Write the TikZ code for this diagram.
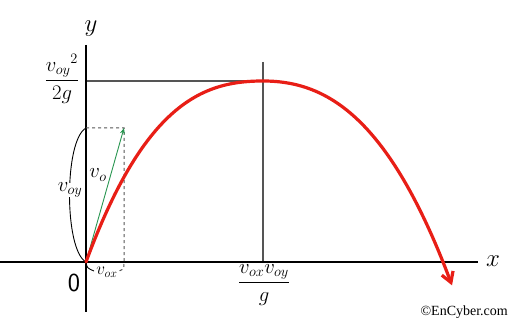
\documentclass[tikz,border=0pt]{standalone}
\usepackage{amsmath}
\usepackage{fontspec}
\newfontfamily\cyfont{Liberation Serif}
\usetikzlibrary{arrows.meta}
\definecolor{trajred}{RGB}{232,30,22}
\definecolor{vgreen}{RGB}{40,150,80}
\definecolor{guide}{RGB}{85,85,85}
\tikzset{
  axisline/.style={line width=1.8pt,black},
  guideline/.style={line width=1.2pt,guide},
  lbl/.style={inner sep=1pt,font=\fontsize{21}{24}\selectfont},
  biglbl/.style={inner sep=1pt,font=\fontsize{30}{32}\selectfont},
}
\begin{document}
\begin{tikzpicture}[x=1pt,y=-1pt]
\useasboundingbox[fill=white] (0,0) rectangle (508,323);
% key coordinates
\coordinate (O) at (86,262);
\coordinate (ytop) at (86,45);
\coordinate (ybot) at (86,312);
\coordinate (xleft) at (0,262);
\coordinate (xright) at (478,262);
\coordinate (peak) at (263,81);
\coordinate (peaktop) at (263,62);
\coordinate (peakfoot) at (263,262);
\coordinate (hleft) at (86,81);
\coordinate (vtip) at (124,128);
\coordinate (vtop) at (86,128);
\coordinate (vcorner) at (124,262);
% guides
\draw[guideline] (hleft) -- (peak);
\draw[guideline] (peaktop) -- (peakfoot);
% axes
\draw[axisline] (ytop) -- (ybot);
\draw[axisline] (xleft) -- (xright);
% dashed velocity box
\draw[dashed,line width=1pt,guide] (vtop) -- (vtip) -- (vcorner) .. controls (124,269) .. (119,271);
% solid bracket piece
\draw[line width=0.9pt] (O) .. controls (87,268) .. (94,271);
% v_oy arc
\draw[line width=0.9pt] (vtop) .. controls (64,140) and (64,250) .. (O);
% velocity vector
\draw[vgreen,line width=0.9pt,-{Stealth[length=6pt,width=5pt]}] (O) -- (vtip);
% trajectory
\draw[trajred,line width=3.2pt,line cap=round,-{Straight Barb[length=10pt,width=12pt]}]
  plot[domain=86:263,samples=70,smooth]
    (\x,{81+181*(0.35*((263-\x)/177)^2+0.65*((263-\x)/177)^3)})
  -- plot[domain=264:452,samples=60,smooth]
    (\x,{81+181*(0.52*((\x-263)/180)^2+0.48*((\x-263)/180)^3)});
% labels
\node[biglbl] (ylab) at (91,29) {$y$};
\node[biglbl] (xlab) at (493,261) {$x$};
\node[inner sep=1pt,font=\sffamily\fontsize{26}{28}\selectfont] (zero) at (74,283) {0};
\node[lbl,fill=white,inner sep=0pt] (voy) at (70,190) {$v_{oy}$};
\node[lbl] (vo) at (98,175) {$v_o$};
\node[lbl,font=\fontsize{18}{20}\selectfont] (vox) at (107,272) {$v_{ox}$};
\node[lbl] (hmax) at (62,79) {$\dfrac{{v_{oy}}^2}{2g}$};
\node[lbl] (range) at (264,285) {$\dfrac{v_{ox}v_{oy}}{g}$};
\node[anchor=east,inner sep=0pt,font=\cyfont\fontsize{14}{16}\selectfont] (copy) at (508,312) {©EnCyber.com};
\end{tikzpicture}
\end{document}
